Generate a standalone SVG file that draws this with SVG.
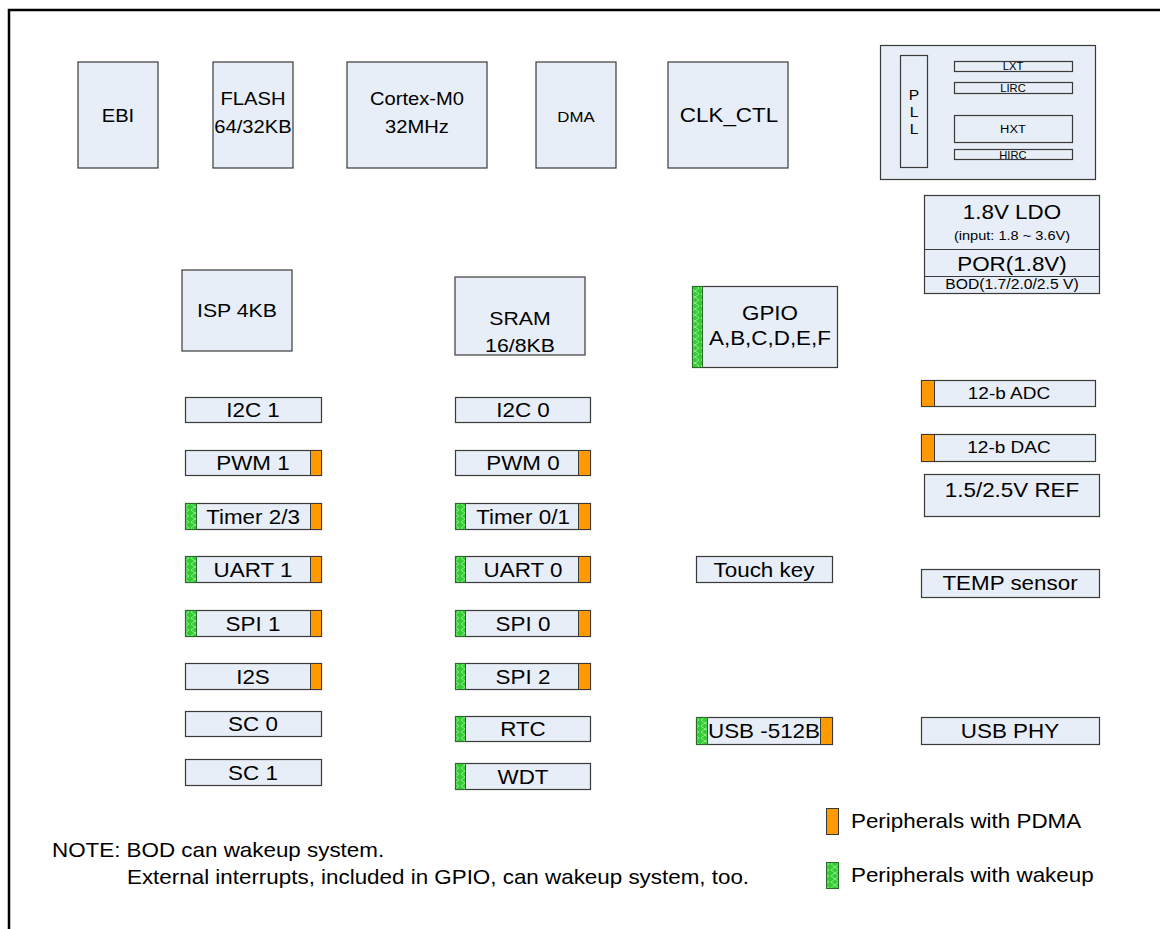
<svg xmlns="http://www.w3.org/2000/svg" width="1160" height="929" viewBox="0 0 1160 929">
<style>
.b{fill:#E8EEF7;stroke:#3a3a3a;stroke-width:1.2}
.o{fill:#FF9900;stroke:#3a3a3a;stroke-width:1}
.g{fill:url(#wk);stroke:#2a6a2a;stroke-width:1}
text{font-family:"Liberation Sans",Arial,sans-serif;fill:#000;transform-box:fill-box;transform-origin:center;transform:scaleX(1.12)}
.c{text-anchor:middle;font-size:18px}
.p{text-anchor:middle;font-size:20px}
.s{text-anchor:middle;font-size:10px}
.l{font-size:20px;transform-origin:0 50%}
</style>
<defs>
<pattern id="wk" width="10" height="12" patternUnits="userSpaceOnUse">
<rect width="10" height="12" fill="#33CC33"/>
<path d="M1,0 L9,6 L1,12 M9,0 L1,6 L9,12" stroke="#A8ECA8" stroke-width="0.8" fill="none"/>
</pattern>
</defs>
<rect width="1160" height="929" fill="#fff"/>
<path d="M9,929 V10 H1160" fill="none" stroke="#000" stroke-width="2.5"/>

<g id="ebi"><rect class="b" x="78" y="62" width="80" height="106"/><text class="c" x="118" y="122">EBI</text></g>
<g id="flash"><rect class="b" x="213" y="62" width="80" height="106"/><text class="c" x="253" y="105">FLASH</text><text class="c" x="253" y="133">64/32KB</text></g>
<g id="cortex"><rect class="b" x="347" y="62" width="140" height="106"/><text class="c" x="417" y="105">Cortex-M0</text><text class="c" x="417" y="133">32MHz</text></g>
<g id="dma"><rect class="b" x="536" y="62" width="80" height="106"/><text class="c" x="576" y="122" style="font-size:15px">DMA</text></g>
<g id="clkctl"><rect class="b" x="668" y="62" width="120" height="106"/><text class="c" x="729" y="122" style="font-size:20px">CLK_CTL</text></g>

<g id="clock">
<rect class="b" x="880.5" y="45.5" width="215" height="134"/>
<rect class="b" x="900.5" y="55.5" width="27" height="112"/>
<text class="s" x="914" y="100" style="font-size:14px">P</text>
<text class="s" x="914" y="117" style="font-size:14px">L</text>
<text class="s" x="914" y="134" style="font-size:14px">L</text>
<rect class="b" x="954.5" y="61.5" width="118" height="10"/><text class="s" x="1013" y="70">LXT</text>
<rect class="b" x="954.5" y="82.5" width="118" height="11"/><text class="s" x="1013" y="92">LIRC</text>
<rect class="b" x="954.5" y="115.5" width="118" height="27"/><text class="s" x="1013" y="133" style="font-size:11.5px">HXT</text>
<rect class="b" x="954.5" y="149.5" width="118" height="10"/><text class="s" x="1013" y="159">HIRC</text>
</g>

<g id="ldo">
<rect class="b" x="924.5" y="195.5" width="175" height="98"/>
<line x1="924.5" y1="249.5" x2="1099.5" y2="249.5" stroke="#3a3a3a"/>
<line x1="924.5" y1="276.5" x2="1099.5" y2="276.5" stroke="#3a3a3a"/>
<text class="c" x="1012" y="219" style="font-size:20px">1.8V LDO</text>
<text class="c" x="1012" y="240" style="font-size:13px">(input: 1.8 ~ 3.6V)</text>
<text class="c" x="1012" y="271" style="font-size:20px">POR(1.8V)</text>
<text class="c" x="1012" y="289" style="font-size:14px">BOD(1.7/2.0/2.5 V)</text>
</g>

<g id="isp"><rect class="b" x="182" y="270" width="110" height="81"/><text class="c" x="237" y="317" style="font-size:19px">ISP 4KB</text></g>
<g id="sram"><rect class="b" x="455" y="277" width="130" height="78"/><text class="c" x="520" y="325" style="font-size:19px">SRAM</text><text class="c" x="520" y="352" style="font-size:19px">16/8KB</text></g>
<g id="gpio"><rect class="b" x="692.5" y="286.5" width="145" height="81"/><rect class="g" x="692.5" y="286.5" width="10" height="81"/><text class="c" x="770" y="320" style="font-size:20px">GPIO</text><text class="c" x="770" y="345" style="font-size:20px">A,B,C,D,E,F</text></g>

<g id="i2c1"><rect class="b" x="185.5" y="397.5" width="136" height="25"/><text class="p" x="253" y="417">I2C 1</text></g>
<g id="pwm1"><rect class="b" x="185.5" y="450.5" width="136" height="25"/><rect class="o" x="310.5" y="450.5" width="11" height="25"/><text class="p" x="253" y="470">PWM 1</text></g>
<g id="timer23"><rect class="b" x="185.5" y="503.5" width="136" height="26"/><rect class="g" x="185.5" y="503.5" width="11" height="26"/><rect class="o" x="310.5" y="503.5" width="11" height="26"/><text class="p" x="253" y="524">Timer 2/3</text></g>
<g id="uart1"><rect class="b" x="185.5" y="556.5" width="136" height="26"/><rect class="g" x="185.5" y="556.5" width="11" height="26"/><rect class="o" x="310.5" y="556.5" width="11" height="26"/><text class="p" x="253" y="577">UART 1</text></g>
<g id="spi1"><rect class="b" x="185.5" y="610.5" width="136" height="26"/><rect class="g" x="185.5" y="610.5" width="11" height="26"/><rect class="o" x="310.5" y="610.5" width="11" height="26"/><text class="p" x="253" y="631">SPI 1</text></g>
<g id="i2s"><rect class="b" x="185.5" y="663.5" width="136" height="26"/><rect class="o" x="310.5" y="663.5" width="11" height="26"/><text class="p" x="253" y="684">I2S</text></g>
<g id="sc0"><rect class="b" x="185.5" y="711.5" width="136" height="25"/><text class="p" x="253" y="731">SC 0</text></g>
<g id="sc1"><rect class="b" x="185.5" y="759.5" width="136" height="26"/><text class="p" x="253" y="780">SC 1</text></g>

<g id="i2c0"><rect class="b" x="455.5" y="397.5" width="135" height="25"/><text class="p" x="523" y="417">I2C 0</text></g>
<g id="pwm0"><rect class="b" x="455.5" y="450.5" width="135" height="25"/><rect class="o" x="578.5" y="450.5" width="12" height="25"/><text class="p" x="523" y="470">PWM 0</text></g>
<g id="timer01"><rect class="b" x="455.5" y="503.5" width="135" height="26"/><rect class="g" x="455.5" y="503.5" width="10" height="26"/><rect class="o" x="578.5" y="503.5" width="12" height="26"/><text class="p" x="523" y="524">Timer 0/1</text></g>
<g id="uart0"><rect class="b" x="455.5" y="556.5" width="135" height="26"/><rect class="g" x="455.5" y="556.5" width="10" height="26"/><rect class="o" x="578.5" y="556.5" width="12" height="26"/><text class="p" x="523" y="577">UART 0</text></g>
<g id="spi0"><rect class="b" x="455.5" y="610.5" width="135" height="26"/><rect class="g" x="455.5" y="610.5" width="10" height="26"/><rect class="o" x="578.5" y="610.5" width="12" height="26"/><text class="p" x="523" y="631">SPI 0</text></g>
<g id="spi2"><rect class="b" x="455.5" y="663.5" width="135" height="26"/><rect class="g" x="455.5" y="663.5" width="10" height="26"/><rect class="o" x="578.5" y="663.5" width="12" height="26"/><text class="p" x="523" y="684">SPI 2</text></g>
<g id="rtc"><rect class="b" x="455.5" y="716.5" width="135" height="25"/><rect class="g" x="455.5" y="716.5" width="10" height="25"/><text class="p" x="523" y="736">RTC</text></g>
<g id="wdt"><rect class="b" x="455.5" y="763.5" width="135" height="26"/><rect class="g" x="455.5" y="763.5" width="10" height="26"/><text class="p" x="523" y="784">WDT</text></g>

<g id="touchkey"><rect class="b" x="696.5" y="556.5" width="136" height="26"/><text class="p" x="764" y="577">Touch key</text></g>
<g id="usb512"><rect class="b" x="696.5" y="717.5" width="136" height="27"/><rect class="g" x="696.5" y="717.5" width="11" height="27"/><rect class="o" x="820.5" y="717.5" width="12" height="27"/><text class="p" x="764" y="738">USB -512B</text></g>

<g id="adc"><rect class="b" x="921.5" y="380.5" width="174" height="26"/><rect class="o" x="921.5" y="380.5" width="13" height="26"/><text class="p" x="1009" y="399" style="font-size:17px">12-b ADC</text></g>
<g id="dac"><rect class="b" x="921.5" y="434.5" width="174" height="27"/><rect class="o" x="921.5" y="434.5" width="13" height="27"/><text class="p" x="1009" y="453" style="font-size:17px">12-b DAC</text></g>
<g id="ref"><rect class="b" x="924.5" y="474.5" width="175" height="42"/><text class="c" x="1012" y="497" style="font-size:20px">1.5/2.5V REF</text></g>
<g id="temp"><rect class="b" x="921.5" y="569.5" width="178" height="28"/><text class="p" x="1010" y="590">TEMP sensor</text></g>
<g id="usbphy"><rect class="b" x="921.5" y="717.5" width="178" height="27"/><text class="p" x="1010" y="738">USB PHY</text></g>

<g id="legend">
<rect class="o" x="826.5" y="808.5" width="12" height="26"/>
<text class="l" x="851" y="828">Peripherals with PDMA</text>
<rect class="g" x="826.5" y="862.5" width="12" height="26"/>
<text class="l" x="851" y="882">Peripherals with wakeup</text>
</g>

<g id="note">
<text class="l" x="52" y="857">NOTE: BOD can wakeup system.</text>
<text class="l" x="127" y="884">External interrupts, included in GPIO, can wakeup system, too.</text>
</g>
</svg>
